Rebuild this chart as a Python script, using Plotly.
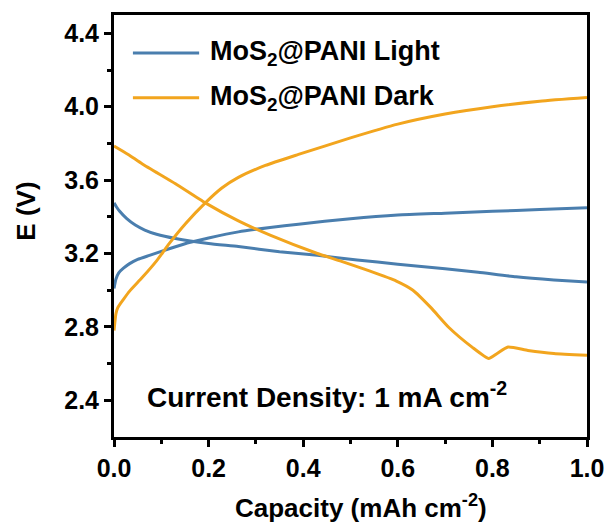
import plotly.graph_objects as go

# Galvanostatic charge/discharge profiles, 1 mA cm^-2
light_charge_cap = [0, 0.004, 0.01, 0.02, 0.033, 0.05, 0.075, 0.1, 0.13, 0.159, 0.2, 0.263, 0.33, 0.39, 0.5, 0.6, 0.7, 0.8, 0.9, 1.0]
light_charge_v = [3.01, 3.06, 3.095, 3.12, 3.145, 3.168, 3.19, 3.212, 3.237, 3.26, 3.285, 3.318, 3.342, 3.36, 3.39, 3.41, 3.42, 3.43, 3.44, 3.45]

light_dis_cap = [0, 0.005, 0.012, 0.027, 0.045, 0.065, 0.09, 0.13, 0.2, 0.263, 0.35, 0.43, 0.514, 0.6, 0.7, 0.77, 0.85, 0.93, 1.0]
light_dis_v = [3.476, 3.455, 3.43, 3.39, 3.355, 3.328, 3.305, 3.282, 3.255, 3.238, 3.21, 3.19, 3.165, 3.142, 3.117, 3.098, 3.073, 3.056, 3.045]

dark_charge_cap = [0, 0.004, 0.008, 0.02, 0.033, 0.06, 0.09, 0.117, 0.152, 0.193, 0.228, 0.263, 0.32, 0.39, 0.5, 0.6, 0.7, 0.8, 0.9, 1.0]
dark_charge_v = [2.78, 2.87, 2.905, 2.95, 2.995, 3.07, 3.16, 3.255, 3.365, 3.476, 3.557, 3.615, 3.68, 3.74, 3.83, 3.905, 3.96, 4.0, 4.03, 4.05]

dark_dis_cap = [0, 0.03, 0.06, 0.13, 0.193, 0.263, 0.33, 0.43, 0.478, 0.54, 0.597, 0.632, 0.67, 0.708, 0.757, 0.792, 0.81, 0.833, 0.875, 0.93, 1.0]
dark_dis_v = [3.786, 3.74, 3.688, 3.58, 3.476, 3.378, 3.30, 3.20, 3.16, 3.105, 3.05, 3.0, 2.905, 2.797, 2.69, 2.628, 2.655, 2.69, 2.672, 2.655, 2.645]

series_names = ["MoS<sub>2</sub>@PANI Light", "MoS<sub>2</sub>@PANI Dark"]
BLUE = "#4a7eae"
ORANGE = "#f2a51e"
FONT = "Liberation Sans"

fig = go.Figure()
for cap, v, color in [
    (light_charge_cap, light_charge_v, BLUE),
    (light_dis_cap, light_dis_v, BLUE),
    (dark_charge_cap, dark_charge_v, ORANGE),
    (dark_dis_cap, dark_dis_v, ORANGE),
]:
    fig.add_trace(go.Scatter(
        x=cap, y=v, mode="lines",
        line=dict(color=color, width=3, shape="spline", smoothing=0.5),
        showlegend=False, hoverinfo="skip",
    ))

axis_common = dict(
    showline=True, linecolor="black", linewidth=3, mirror=True,
    ticks="outside", ticklen=7, tickwidth=2.5, tickcolor="black",
    showgrid=False, zeroline=False,
    tickfont=dict(family=FONT, size=25, color="black", weight="bold"),
)

fig.update_xaxes(
    range=[0, 1], tickvals=[0, 0.2, 0.4, 0.6, 0.8, 1.0],
    ticktext=["0.0", "0.2", "0.4", "0.6", "0.8", "1.0"],
    minor=dict(tickvals=[0.1, 0.3, 0.5, 0.7, 0.9], ticks="outside", ticklen=4, tickwidth=2.5, tickcolor="black"),
    **axis_common,
)
fig.update_yaxes(
    range=[2.2, 4.5], tickvals=[2.4, 2.8, 3.2, 3.6, 4.0, 4.4],
    ticktext=["2.4", "2.8", "3.2", "3.6", "4.0", "4.4"],
    minor=dict(tickvals=[2.6, 3.0, 3.4, 3.8, 4.2], ticks="outside", ticklen=4, tickwidth=2.5, tickcolor="black"),
    **axis_common,
)

title_font = dict(family=FONT, size=26, color="black", weight="bold")
# Axis titles
fig.add_annotation(xref="paper", yref="paper", x=0.522, y=-0.165,
                   text="Capacity (mAh cm<sup>-2</sup>)", showarrow=False,
                   xanchor="center", yanchor="middle", font=title_font)
fig.add_annotation(xref="paper", yref="paper", x=-0.186, y=0.534,
                   text="E (V)", showarrow=False, textangle=-90,
                   xanchor="center", yanchor="middle", font=title_font)

# Legend: line samples with labels in the upper-left corner
legend_rows = [(0.91, BLUE), (0.804, ORANGE)]
for (ypos, color), name in zip(legend_rows, series_names):
    fig.add_shape(type="line", xref="paper", yref="paper",
                  x0=0.04, x1=0.18, y0=ypos, y1=ypos,
                  line=dict(color=color, width=3))
    fig.add_annotation(xref="paper", yref="paper", x=0.198, y=ypos,
                       text=name, showarrow=False, xanchor="left", yanchor="middle",
                       font=dict(family=FONT, size=27, color="black", weight="bold"))

fig.add_annotation(xref="paper", yref="paper", x=0.066, y=0.1,
                   text="Current Density: 1 mA cm<sup>-2</sup>", showarrow=False,
                   xanchor="left", yanchor="middle",
                   font=dict(family=FONT, size=28, color="black", weight="bold"))

fig.update_layout(
    width=616, height=528,
    margin=dict(l=114, r=23, t=14, b=91),
    paper_bgcolor="white", plot_bgcolor="white",
)

fig.write_html("out.html")
